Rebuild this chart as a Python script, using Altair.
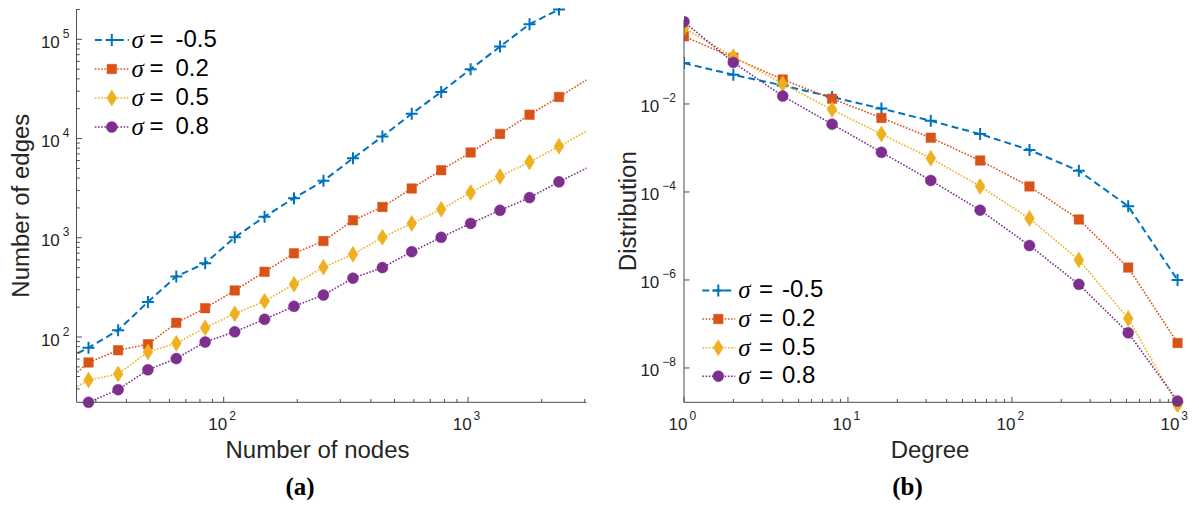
import altair as alt
import pandas as pd

# ---------------- data ----------------
SERIES = ["-0.5", "0.2", "0.5", "0.8"]
COLORS = ["#0072BD", "#D95319", "#EDB120", "#7E2F8E"]

# panel (a): number of nodes vs number of edges
nodes = [21, 28, 37, 49, 64, 84, 111, 147, 194, 256, 338, 446, 588, 776, 1024, 1351, 1783, 2353, 3104]
edges_m05 = [54, 78, 117, 226, 408, 554, 1010, 1633, 2510, 3750, 6320, 10480, 17800, 29500, 50000, 84400, 142000, 200000, None]
edges_02 = [30, 55.4, 73.6, 84.5, 139, 195, 295, 454, 697, 926, 1500, 2045, 3140, 4800, 7240, 11140, 17400, 26200, 40000]
edges_05 = [24.6, 36.9, 42.3, 70.8, 86.4, 124, 172, 229, 341, 505, 681, 1010, 1397, 1937, 2857, 4150, 5810, 8360, 12100]
edges_08 = [None, 22.0, 29.5, 46.8, 60.7, 89.1, 113, 151, 204, 265, 392, 501, 724, 1010, 1397, 1893, 2540, 3660, 5130]

# panel (b): degree distribution
degree = [1, 2, 4, 8, 16, 32, 64, 128, 256, 512, 1024]
dist_m05 = [0.085, 0.046, 0.0264, 0.0144, 0.00785, 0.00414, 0.00207, 0.000902, 0.000303, 4.75e-5, 1.0e-6]
dist_02 = [0.345, 0.113, 0.036, 0.0132, 0.00483, 0.00171, 0.000518, 0.000134, 2.38e-5, 1.91e-6, 3.7e-8]
dist_05 = [0.53, 0.119, 0.0288, 0.00745, 0.00207, 0.000585, 0.000134, 2.5e-5, 2.86e-6, 1.33e-7, 1.44e-9]
dist_08 = [0.74, 0.088, 0.0151, 0.00348, 0.000798, 0.000183, 3.86e-5, 6.07e-6, 7.96e-7, 6.3e-8, 1.77e-9]

# axis ticks
a_xmajor = [100, 1000]
a_xexp = ["2", "3"]
a_xminor = [30, 40, 50, 60, 70, 80, 90, 200, 300, 400, 500, 600, 700, 800, 900, 2000, 3000]
a_ymajor = [100, 1000, 10000, 100000]
a_yexp = ["2", "3", "4", "5"]
a_yminor = [30, 40, 50, 60, 70, 80, 90,
            200, 300, 400, 500, 600, 700, 800, 900,
            2000, 3000, 4000, 5000, 6000, 7000, 8000, 9000,
            20000, 30000, 40000, 50000, 60000, 70000, 80000, 90000, 200000]
b_xmajor = [1, 10, 100, 1000]
b_xexp = ["0", "1", "2", "3"]
b_xminor = [2, 3, 4, 5, 6, 7, 8, 9, 20, 30, 40, 50, 60, 70, 80, 90,
            200, 300, 400, 500, 600, 700, 800, 900]
b_ymajor = [1e-8, 1e-6, 1e-4, 1e-2]
b_yexp = ["\u22128", "\u22126", "\u22124", "\u22122"]
b_yminor = []

# ---------------- style ----------------
FONT = "Liberation Sans"
TXT = "#262626"
AXC = "#4d4d4d"
STYLES = [
    dict(dash=[7, 4], lw=2.0, shape="M-1,0L1,0M0,-1L0,1", size=144, filled=False, sw=2.0),
    dict(dash=[1.6, 1.6], lw=1.6, shape="square", size=90, filled=True, sw=0.5),
    dict(dash=[1.6, 1.6], lw=1.6, shape="M0,-1L0.62,0L0,1L-0.62,0Z", size=256, filled=True, sw=0.5),
    dict(dash=[1.6, 1.6], lw=1.6, shape="circle", size=121, filled=True, sw=0.5),
]
ONE = pd.DataFrame({"a": [0]})


def long_df(xs, ys_list):
    rows = []
    for i, ys in enumerate(ys_list):
        for x, y in zip(xs, ys):
            if y is not None:
                rows.append({"x": x, "y": y, "s": i})
    return pd.DataFrame(rows)


def point_mark(i):
    st = STYLES[i]
    c = COLORS[i]
    if st["filled"]:
        return dict(shape=st["shape"], size=st["size"], filled=True, color=c,
                    stroke=c, strokeWidth=st["sw"], opacity=1)
    return dict(shape=st["shape"], size=st["size"], filled=False, color=c,
                strokeWidth=st["sw"], opacity=1)


def panel(df, xs, ys, xdom, W, AX, xmaj, xexp, xmin, ymaj, yexp, ymin, ylab_r, yexp_l,
          leg_rows, leg, xtitle, xtitle_x, ytitle, ytitle_y, caption, ytop):
    L = []
    X = lambda f: alt.X(f, type="quantitative", scale=xs, axis=None)
    Y = lambda f: alt.Y(f, type="quantitative", scale=ys, axis=None)
    # series lines and markers
    for i in range(4):
        st = STYLES[i]
        d = df[df.s == i]
        L.append(alt.Chart(d).mark_line(clip=True, color=COLORS[i], strokeDash=st["dash"],
                                         strokeWidth=st["lw"]).encode(x=X("x"), y=Y("y")))
        L.append(alt.Chart(d).transform_filter(
            f"datum.x >= {xdom[0]} && datum.x <= {xdom[1]}"
        ).mark_point(clip=True, **point_mark(i)).encode(x=X("x"), y=Y("y")))
    # axis lines
    L.append(alt.Chart(ONE).mark_rule(color=AXC, strokeWidth=1).encode(
        x=alt.value(0), y=alt.value(ytop), y2=alt.value(AX)))
    L.append(alt.Chart(ONE).mark_rule(color=AXC, strokeWidth=1).encode(
        x=alt.value(0), x2=alt.value(W), y=alt.value(AX)))
    # ticks (inward)
    for vals, ln in ((xmaj, 5.5), (xmin, 3.3)):
        if vals:
            L.append(alt.Chart(pd.DataFrame({"v": vals})).mark_rule(color=AXC, strokeWidth=1).encode(
                x=X("v"), y=alt.value(AX), y2=alt.value(AX - ln)))
    for vals, ln in ((ymaj, 5.5), (ymin, 3.3)):
        if vals:
            L.append(alt.Chart(pd.DataFrame({"v": vals})).mark_rule(color=AXC, strokeWidth=1).encode(
                y=Y("v"), x=alt.value(0), x2=alt.value(ln)))
    # tick labels
    xl = pd.DataFrame({"v": xmaj, "e": xexp})
    L.append(alt.Chart(xl).mark_text(align="right", baseline="alphabetic", dx=3.5, font=FONT,
                                     fontSize=17, color=TXT).encode(
        x=X("v"), y=alt.value(AX + 27.7), text=alt.value("10")))
    L.append(alt.Chart(xl).mark_text(align="left", baseline="alphabetic", dx=5.5, font=FONT,
                                     fontSize=12, color=TXT).encode(
        x=X("v"), y=alt.value(AX + 17.7), text="e:N"))
    yl = pd.DataFrame({"v": ymaj, "e": yexp})
    L.append(alt.Chart(yl).mark_text(align="right", baseline="alphabetic", dy=8.5, font=FONT,
                                     fontSize=17, color=TXT).encode(
        y=Y("v"), x=alt.value(ylab_r), text=alt.value("10")))
    L.append(alt.Chart(yl).mark_text(align="left", baseline="alphabetic", dy=-1.5, font=FONT,
                                     fontSize=12, color=TXT).encode(
        y=Y("v"), x=alt.value(yexp_l), text="e:N"))
    # axis titles
    L.append(alt.Chart(ONE).mark_text(align="center", baseline="alphabetic", font=FONT,
                                      fontSize=24, color=TXT).encode(
        x=alt.value(xtitle_x), y=alt.value(AX + 56), text=alt.value(xtitle)))
    L.append(alt.Chart(ONE).mark_text(align="center", baseline="alphabetic", angle=270, font=FONT,
                                      fontSize=24, color=TXT).encode(
        x=alt.value(-48), y=alt.value(ytitle_y), text=alt.value(ytitle)))
    # caption
    L.append(alt.Chart(ONE).mark_text(align="center", baseline="alphabetic", font="Liberation Serif",
                                      fontWeight="bold", fontSize=25, color="#000000").encode(
        x=alt.value(223.5), y=alt.value(487), text=alt.value(caption)))
    # legend
    for i, ry in enumerate(leg_rows):
        st = STYLES[i]
        L.append(alt.Chart(ONE).mark_rule(color=COLORS[i], strokeDash=st["dash"],
                                          strokeWidth=st["lw"]).encode(
            x=alt.value(leg["x0"]), x2=alt.value(leg["x1"]), y=alt.value(ry)))
        L.append(alt.Chart(ONE).mark_point(**point_mark(i)).encode(
            x=alt.value(leg["xm"]), y=alt.value(ry)))
        L.append(alt.Chart(ONE).mark_text(align="left", baseline="middle", font="Liberation Serif",
                                          fontStyle="italic", fontSize=25, color="#000000").encode(
            x=alt.value(leg["xs"]), y=alt.value(ry), text=alt.value("\u03c3")))
        L.append(alt.Chart(ONE).mark_text(align="left", baseline="middle", font=FONT,
                                          fontSize=24, color="#000000").encode(
            x=alt.value(leg["xe"]), y=alt.value(ry), text=alt.value("=")))
        L.append(alt.Chart(ONE).mark_text(align="left", baseline="middle", font=FONT,
                                          fontSize=24, color="#000000").encode(
            x=alt.value(leg["xv"]), y=alt.value(ry), text=alt.value(SERIES[i])))
    return alt.layer(*L).properties(width=W, height=AX + 10)


AX = 394.3

# ---------- panel (a) ----------
WA = 510
a_xdom = [25, 3050]
a_xs = alt.Scale(type="log", domain=a_xdom, nice=False)
a_ys = alt.Scale(type="log", domain=[22, 2.02e5], nice=False, range=[AX, 1])
dfa = long_df(nodes, [edges_m05, edges_02, edges_05, edges_08])
left = panel(dfa, a_xs, a_ys, a_xdom, WA, AX, a_xmajor, a_xexp, a_xminor, a_ymajor, a_yexp, a_yminor,
             -16.7, -13.7, [32, 61, 90, 119],
             dict(x0=18.3, x1=52.3, xm=35.3, xs=55, xe=73, xv=99),
             "Number of nodes", 241, "Number of edges", 197.7, "(a)", 1)

# ---------- panel (b) ----------
WB = 499.5
b_xdom = [1, 1113]
b_xs = alt.Scale(type="log", domain=b_xdom, nice=False)
b_ys = alt.Scale(type="log", domain=[1.66e-9, 0.81], nice=False, range=[AX, 12])
dfb = long_df(degree, [dist_m05, dist_02, dist_05, dist_08])
right = panel(dfb, b_xs, b_ys, b_xdom, WB, AX, b_xmajor, b_xexp, b_xminor, b_ymajor, b_yexp, b_yminor,
              -24.7, -21.7, [282.5, 311, 339.7, 368.2],
              dict(x0=18.3, x1=51.3, xm=34.3, xs=54.3, xe=75, xv=98),
              "Degree", 246, "Distribution", 203.2, "(b)", 12)

chart = alt.hconcat(left, right, spacing=29.5).properties(
    padding={"left": 1.5, "top": 0, "right": 0, "bottom": 0}
).configure_view(strokeWidth=0)
chart.save("out.html", embed_options={"renderer": "svg", "actions": False})
